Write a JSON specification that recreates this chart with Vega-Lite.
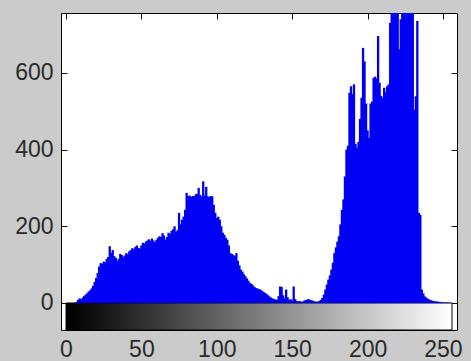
{
  "$schema": "https://vega.github.io/schema/vega-lite/v6.json",
  "autosize": "none",
  "padding": {"left": 61, "top": 13, "right": 14, "bottom": 31},
  "width": 396,
  "height": 317,
  "background": "#cbcbcb",
  "config": {
    "view": {"fill": "white", "stroke": "black", "strokeWidth": 1},
    "axis": {"domain": false, "grid": false, "title": null, "labelFont": "Liberation Sans, Arial, sans-serif", "labelFontSize": 23, "labelColor": "#2a2a2a", "tickColor": "#111", "tickSize": -6, "tickWidth": 1, "labelFlush": false, "labelOverlap": false}
  },
  "datasets": {
    "hist": [
      {"v":0,"c":0},{"v":1,"c":0},{"v":2,"c":0},{"v":3,"c":0},{"v":4,"c":0},{"v":5,"c":0},{"v":6,"c":1},{"v":7,"c":3},{"v":8,"c":8},{"v":9,"c":12},
      {"v":10,"c":10},{"v":11,"c":14},{"v":12,"c":18},{"v":13,"c":22},{"v":14,"c":25},{"v":15,"c":30},{"v":16,"c":33},{"v":17,"c":38},{"v":18,"c":45},{"v":19,"c":55},
      {"v":20,"c":65},{"v":21,"c":78},{"v":22,"c":95},{"v":23,"c":104},{"v":24,"c":102},{"v":25,"c":108},{"v":26,"c":106},{"v":27,"c":115},{"v":28,"c":120},{"v":29,"c":148},
      {"v":30,"c":130},{"v":31,"c":138},{"v":32,"c":122},{"v":33,"c":118},{"v":34,"c":110},{"v":35,"c":115},{"v":36,"c":128},{"v":37,"c":125},{"v":38,"c":120},{"v":39,"c":124},
      {"v":40,"c":130},{"v":41,"c":127},{"v":42,"c":135},{"v":43,"c":138},{"v":44,"c":143},{"v":45,"c":140},{"v":46,"c":146},{"v":47,"c":150},{"v":48,"c":144},{"v":49,"c":142},
      {"v":50,"c":150},{"v":51,"c":157},{"v":52,"c":155},{"v":53,"c":160},{"v":54,"c":163},{"v":55,"c":166},{"v":56,"c":162},{"v":57,"c":168},{"v":58,"c":163},{"v":59,"c":158},
      {"v":60,"c":165},{"v":61,"c":170},{"v":62,"c":174},{"v":63,"c":172},{"v":64,"c":182},{"v":65,"c":176},{"v":66,"c":165},{"v":67,"c":172},{"v":68,"c":183},{"v":69,"c":180},
      {"v":70,"c":188},{"v":71,"c":192},{"v":72,"c":200},{"v":73,"c":186},{"v":74,"c":190},{"v":75,"c":235},{"v":76,"c":205},{"v":77,"c":217},{"v":78,"c":225},{"v":79,"c":243},
      {"v":80,"c":287},{"v":81,"c":278},{"v":82,"c":280},{"v":83,"c":276},{"v":84,"c":279},{"v":85,"c":278},{"v":86,"c":283},{"v":87,"c":285},{"v":88,"c":300},{"v":89,"c":282},
      {"v":90,"c":278},{"v":91,"c":317},{"v":92,"c":280},{"v":93,"c":303},{"v":94,"c":278},{"v":95,"c":276},{"v":96,"c":279},{"v":97,"c":278},{"v":98,"c":256},{"v":99,"c":235},
      {"v":100,"c":222},{"v":101,"c":225},{"v":102,"c":217},{"v":103,"c":200},{"v":104,"c":183},{"v":105,"c":178},{"v":106,"c":170},{"v":107,"c":165},{"v":108,"c":150},{"v":109,"c":130},
      {"v":110,"c":128},{"v":111,"c":125},{"v":112,"c":122},{"v":113,"c":130},{"v":114,"c":110},{"v":115,"c":98},{"v":116,"c":87},{"v":117,"c":82},{"v":118,"c":75},{"v":119,"c":70},
      {"v":120,"c":64},{"v":121,"c":58},{"v":122,"c":52},{"v":123,"c":50},{"v":124,"c":46},{"v":125,"c":42},{"v":126,"c":39},{"v":127,"c":38},{"v":128,"c":36},{"v":129,"c":35},
      {"v":130,"c":32},{"v":131,"c":29},{"v":132,"c":26},{"v":133,"c":24},{"v":134,"c":20},{"v":135,"c":17},{"v":136,"c":14},{"v":137,"c":12},{"v":138,"c":10},{"v":139,"c":9},
      {"v":140,"c":8},{"v":141,"c":18},{"v":142,"c":43},{"v":143,"c":42},{"v":144,"c":20},{"v":145,"c":12},{"v":146,"c":35},{"v":147,"c":15},{"v":148,"c":8},{"v":149,"c":10},
      {"v":150,"c":6},{"v":151,"c":43},{"v":152,"c":10},{"v":153,"c":5},{"v":154,"c":4},{"v":155,"c":5},{"v":156,"c":3},{"v":157,"c":4},{"v":158,"c":6},{"v":159,"c":8},
      {"v":160,"c":9},{"v":161,"c":10},{"v":162,"c":8},{"v":163,"c":7},{"v":164,"c":5},{"v":165,"c":4},{"v":166,"c":3},{"v":167,"c":4},{"v":168,"c":5},{"v":169,"c":8},
      {"v":170,"c":13},{"v":171,"c":22},{"v":172,"c":35},{"v":173,"c":48},{"v":174,"c":61},{"v":175,"c":72},{"v":176,"c":87},{"v":177,"c":105},{"v":178,"c":130},{"v":179,"c":145},
      {"v":180,"c":160},{"v":181,"c":174},{"v":182,"c":205},{"v":183,"c":243},{"v":184,"c":270},{"v":185,"c":330},{"v":186,"c":400},{"v":187,"c":410},{"v":188,"c":548},{"v":189,"c":565},
      {"v":190,"c":545},{"v":191,"c":570},{"v":192,"c":415},{"v":193,"c":405},{"v":194,"c":420},{"v":195,"c":480},{"v":196,"c":535},{"v":197,"c":665},{"v":198,"c":630},{"v":199,"c":520},
      {"v":200,"c":450},{"v":201,"c":430},{"v":202,"c":520},{"v":203,"c":525},{"v":204,"c":587},{"v":205,"c":590},{"v":206,"c":585},{"v":207,"c":696},{"v":208,"c":574},{"v":209,"c":540},
      {"v":210,"c":535},{"v":211,"c":561},{"v":212,"c":550},{"v":213,"c":565},{"v":214,"c":570},{"v":215,"c":730},{"v":216,"c":800},{"v":217,"c":770},{"v":218,"c":800},{"v":219,"c":790},
      {"v":220,"c":760},{"v":221,"c":661},{"v":222,"c":740},{"v":223,"c":800},{"v":224,"c":850},{"v":225,"c":800},{"v":226,"c":820},{"v":227,"c":780},{"v":228,"c":800},{"v":229,"c":830},
      {"v":230,"c":790},{"v":231,"c":504},{"v":232,"c":539},{"v":233,"c":735},{"v":234,"c":235},{"v":235,"c":230},{"v":236,"c":35},{"v":237,"c":25},{"v":238,"c":17},{"v":239,"c":14},
      {"v":240,"c":11},{"v":241,"c":9},{"v":242,"c":7},{"v":243,"c":6},{"v":244,"c":5},{"v":245,"c":4},{"v":246,"c":4},{"v":247,"c":3},{"v":248,"c":3},{"v":249,"c":2},
      {"v":250,"c":2},{"v":251,"c":1},{"v":252,"c":1},{"v":253,"c":1},{"v":254,"c":1},{"v":255,"c":0}
    ],
    "bar": [{"x0": 0, "x1": 256, "y0": -70.4, "y1": 0}]
  },
  "layer": [
    {
      "data": {"name": "bar"},
      "mark": {"type": "rect", "stroke": "black", "strokeWidth": 1, "fill": {"gradient": "linear", "x1": 0, "y1": 0, "x2": 1, "y2": 0, "stops": [{"offset": 0, "color": "#000000"}, {"offset": 0.05, "color": "#0a0a0a"}, {"offset": 1, "color": "#ffffff"}]}},
      "encoding": {
        "x": {"field": "x0", "type": "quantitative", "scale": {"domain": [0, 256], "nice": false, "zero": false}, "axis": {"orient": "bottom", "values": [0, 50, 100, 150, 200, 250], "labelPadding": 32, "labelBaseline": "alphabetic", "labelFlush": false, "labelAlign": "center"}},
        "x2": {"field": "x1"},
        "y": {"field": "y0", "type": "quantitative", "scale": {"domain": [-70.4, 756], "nice": false, "zero": false}, "axis": {"orient": "left", "values": [0, 200, 400, 600], "labelPadding": 14, "labelFlush": false}},
        "y2": {"field": "y1"}
      }
    },
    {
      "data": {"name": "hist"},
      "mark": {"type": "bar", "color": "#0000f5", "width": 2.3, "clip": true},
      "encoding": {
        "x": {"field": "v", "type": "quantitative", "axis": null},
        "y": {"field": "c", "type": "quantitative", "axis": null}
      }
    },
    {
      "data": {"name": "bar"},
      "mark": {"type": "point", "opacity": 0},
      "encoding": {
        "x": {"field": "x0", "type": "quantitative", "axis": {"orient": "top", "values": [0, 50, 100, 150, 200, 250], "labels": false}},
        "y": {"field": "y1", "type": "quantitative", "axis": {"orient": "right", "values": [0, 200, 400, 600], "labels": false}}
      }
    }
  ],
  "resolve": {"axis": {"x": "independent", "y": "independent"}}
}
